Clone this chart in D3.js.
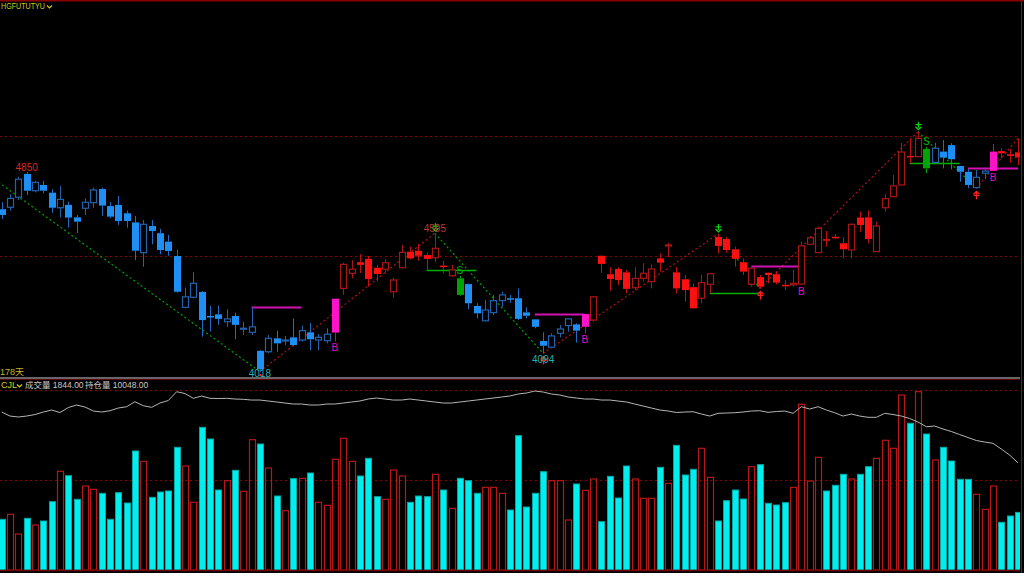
<!DOCTYPE html>
<html><head><meta charset="utf-8">
<script src="https://cdn.jsdelivr.net/npm/d3@7/dist/d3.min.js"></script>
<style>html,body{margin:0;padding:0;background:#000;overflow:hidden}svg{display:block}</style>
</head><body><svg id="c" width="1024" height="573"></svg>
<script>
// ---------- data ----------
const symbol = "HGFUTUTYU";
const periodLabel = "178天";
const indicatorName = "CJL";
const volumeLabel = "成交量";
const oiLabel = "持仓量";
const lastVolumeText = "1844.00";
const lastOiText = "10048.00";

const opens = [4695,4703,4745,4842,4772,4796,4764,4701,4713,4661,4699,4722,4779,4708,4713,4678,4640,4514,4625,4595,4560,4500,4286,4328,4350,4250,4257,4226,4250,4196,4182,4105,4101,4157,4147,4161,4150,4182,4150,4147,4181,
4365,4428,4474,4488,4451,4445,4351,4451,4518,4522,4504,4493,4460,4418,4407,4383,4292,4230,4264,4314,4324,4324,4265,4236,4146,4120,4178,4210,4215,4205,
4233,4501,4424,4446,4432,4368,4407,4393,4490,4542,4432,4403,4370,4324,4382,4579,4571,4528,4474,4382,
4412,4430,4424,4380,4380,4383,4549,4514,4570,4580,4553,4525,4660,4661,4518,4701,4747,4796,4917,4914,
4946,4890,4935,4962,4875,4851,4785,4845,4855,4937,4924,4932];
const highs = [4724,4757,4830,4850,4813,4813,4778,4792,4726,4671,4740,4785,4785,4724,4750,4689,4667,4650,4650,4613,4588,4525,4368,4432,4354,4292,4293,4278,4264,4226,4286,4108,4171,4189,4167,4240,4210,4220,4175,4199,4322,
4472,4483,4508,4500,4463,4488,4410,4546,4539,4550,4515,4595,4480,4463,4417,4385,4303,4317,4338,4351,4338,4365,4286,4237,4182,4178,4213,4238,4220,4259,
4333,4502,4453,4453,4442,4453,4470,4465,4511,4555,4454,4421,4386,4421,4430,4592,4580,4539,4490,4455,
4421,4431,4435,4400,4442,4560,4583,4622,4604,4592,4580,4636,4685,4689,4643,4758,4838,4972,4990,5018,
4955,4972,4983,4970,4876,4861,4858,4868,4967,4949,4945,4990];
const lows = [4654,4689,4733,4754,4765,4761,4680,4660,4618,4595,4671,4701,4668,4657,4629,4618,4483,4455,4549,4507,4501,4347,4282,4324,4164,4185,4213,4205,4153,4171,4171,4018,4095,4101,4129,4125,4143,4108,4108,4136,4144,
4338,4407,4428,4372,4396,4428,4326,4449,4486,4480,4439,4476,4428,4414,4335,4278,4240,4228,4254,4289,4305,4233,4240,4199,4094,4118,4161,4185,4139,4178,
4226,4430,4355,4379,4345,4358,4393,4365,4435,4495,4344,4310,4280,4303,4345,4511,4514,4455,4421,4372,
4365,4386,4382,4358,4372,4379,4546,4513,4539,4570,4490,4490,4601,4553,4517,4685,4746,4795,4886,4913,
4845,4886,4865,4861,4810,4782,4782,4820,4855,4907,4889,4879];
const closes = [4671,4740,4820,4772,4807,4772,4701,4736,4660,4643,4724,4775,4710,4664,4646,4646,4522,4632,4604,4525,4521,4351,4330,4386,4233,4245,4238,4238,4213,4199,4205,4029,4157,4136,4150,4129,4189,4153,4161,4174,4322,
4465,4445,4463,4404,4425,4472,4400,4515,4490,4501,4488,4532,4455,4442,4338,4303,4261,4275,4314,4338,4320,4238,4251,4205,4126,4167,4196,4238,4189,4258,
4330,4467,4404,4400,4363,4407,4428,4446,4472,4546,4365,4358,4282,4389,4426,4542,4525,4488,4435,4449,
4372,4421,4389,4374,4386,4542,4576,4615,4564,4574,4528,4632,4629,4571,4625,4739,4792,4933,4911,4990,
4865,4949,4910,4903,4851,4796,4828,4854,4935,4928,4917,4910];
// candle tone runs: b = blue trend, r = red trend, m = buy signal bar, g = sell signal bar
const toneRuns = [["b",40],["m",1],["r",14],["g",1],["b",14],["m",1],["r",40],["g",1],["b",7],["m",1],["r",3]];

const volumes = [1622,1782,1152,1654,1440,1568,2186,3158,3018,2262,2688,2582,2454,1622,2474,2144,3808,3478,2326,2496,2528,3926,3328,2166,4566,4192,2560,2858,3190,2518,4170,4032,3264,2368,1898,2922,2934,3104,2166,2070,3542,
4214,3478,3008,3574,2346,2262,3200,3008,2166,2368,2346,3062,2560,1974,2934,2858,2454,2646,2646,2454,1920,4298,2016,2454,3146,2858,2858,1600,2752,2550,
2912,1546,2998,2304,3328,2912,2294,2294,3286,2774,3990,3040,3222,3894,2966,1568,2218,2560,2272,3306,
3370,2134,2080,2154,2646,5302,2848,3606,2528,2710,3062,2912,3062,3306,3574,4150,3894,5600,4694,5706,
4352,3520,3926,3488,2902,2902,2422,1942,2688,1526,1728,1844];
const openInterest = [12301,12123,12079,12123,12190,12301,12390,12279,12501,12612,12523,12346,12301,12359,12479,12537,12759,12581,12510,12701,12812,13203,13123,12910,13012,12910,12901,12910,12879,12866,
12834,12834,12790,12746,12701,12657,12657,12612,12612,12657,12657,12701,12746,12790,12879,12923,12879,12834,12834,12879,12834,12790,12746,12701,12701,12746,12790,12834,12879,12923,
12968,13012,13101,13146,13234,13190,13101,13057,12968,12923,12879,12879,12834,12834,12790,12746,12657,12568,12479,12390,12346,
12279,12301,12315,12212,12123,12243,12257,12270,12301,12346,12359,12288,12323,12346,12243,12537,12434,12537,12390,12270,
12123,12212,12123,12066,12066,12243,12190,12123,12012,11857,11648,11679,11545,11435,11301,11168,11035,10968,10910,10657,10390,10048];

// zigzag pivots [index, price]
const zigzagPivots = [[-3,4873],[31,4018],[52,4595],[65,4094],[86,4592],[91,4365],[110,5018],[117,4782],[122,4990]];
// horizontal stop / breakout levels
const levelFrom = [30,51,64,85,90,109,116];
const levelTo   = [36,57,70,91,96,115,122];
const levelPrice= [4286,4442,4258,4345,4458,4886,4868];
const levelKind = ["m","g","m","g","m","g","m"];
const buySignals = [40,70,96,119];
const sellSignals = [55,111];
const downArrowBars = [52,86,110];
const upArrowBars = [31,65,91,117];
const extremeBars = [3,31,52,65];
const extremeText = ["4850","4018","4595","4094"];
const extremeSide = ["top","bottom","top","bottom"];
const priceGrid = [4500,5000];
const volumeGrid = [2880,5760];

// ---------- layout ----------
const W = 1024, H = 573;
const svg = d3.select("#c");
svg.append("rect").attr("width",W).attr("height",H).attr("fill","#000");

const n = opens.length;
const x = d3.scaleLinear().domain([0, n-1]).range([1.7, 1017.96]);
const y = d3.scaleLinear().domain([4500, 5000]).range([256, 136]);
const yv = d3.scaleLinear().domain([0, 5760]).range([570, 390]);
const yo = d3.scaleLinear().domain([5280, 13280]).range([570, 390]);

const tones = [];
toneRuns.forEach(([t,c]) => { for (let k=0;k<c;k++) tones.push(t); });

const palette = {
  b: {fill:"#1e8ff5", wick:"#1f6cc8", hollow:"#2462aa"},
  r: {fill:"#ff1010", wick:"#c01010", hollow:"#a81616"},
  m: {fill:"#ff12c8", wick:"#b0108a", hollow:"#ff12c8"},
  g: {fill:"#00a400", wick:"#00a400", hollow:"#00a400"}
};

svg.append("clipPath").attr("id","mainClip").append("rect").attr("x",0).attr("y",2).attr("width",1020).attr("height",374);
svg.append("clipPath").attr("id","volClip").append("rect").attr("x",0).attr("y",381).attr("width",1020).attr("height",190);

svg.append("line").attr("x1",0).attr("x2",W).attr("y1",0.5).attr("y2",0.5).attr("stroke","#8a0000").attr("stroke-width",2);

const main = svg.append("g").attr("clip-path","url(#mainClip)");
const vol = svg.append("g").attr("clip-path","url(#volClip)");

main.selectAll("line.pg").data(priceGrid).join("line").attr("class","pg")
  .attr("x1",0).attr("x2",1020).attr("y1",d=>Math.round(y(d))+0.5).attr("y2",d=>Math.round(y(d))+0.5)
  .attr("stroke","#8c0000").attr("stroke-width",1).attr("stroke-dasharray","2,3");

for (let k=0;k<zigzagPivots.length-1;k++){
  const a = zigzagPivots[k], b = zigzagPivots[k+1];
  const up = b[1] > a[1];
  main.append("line").attr("x1",x(a[0])).attr("y1",y(a[1])).attr("x2",x(b[0])).attr("y2",y(b[1]))
    .attr("stroke", up ? "#b01414" : "#00a000").attr("stroke-width",1.2).attr("stroke-dasharray","2,2.5");
}

levelFrom.forEach((f,k)=>{
  const yy = Math.round(y(levelPrice[k]))+0.5;
  main.append("line").attr("x1",x(f)).attr("x2",x(levelTo[k])).attr("y1",yy).attr("y2",yy)
    .attr("stroke", levelKind[k]==="m" ? "#d412b4" : "#00b000").attr("stroke-width", levelKind[k]==="m"?2:1.5);
});

const bw = 6;
d3.range(n).forEach(i=>{
  const t = tones[i], p = palette[t];
  const o = opens[i], c = closes[i], h = highs[i], l = lows[i];
  const up = c >= o;
  const cx = Math.round(x(i)) + 0.5;
  const top = y(Math.max(o,c)), bot = y(Math.min(o,c));
  const filled = (t==="m"||t==="g") ? true : !up;
  const wickColor = filled ? p.wick : p.hollow;
  const g = main.append("g");
  g.append("line").attr("x1",cx).attr("x2",cx).attr("y1",y(h)).attr("y2",top).attr("stroke",wickColor).attr("stroke-width",1);
  g.append("line").attr("x1",cx).attr("x2",cx).attr("y1",bot).attr("y2",y(l)).attr("stroke",wickColor).attr("stroke-width",1);
  const bx = Math.round(x(i) - bw/2);
  const bh = Math.max(1, bot - top);
  if (filled) {
    g.append("rect").attr("x",bx).attr("y",top).attr("width",bw+1).attr("height",Math.max(1.5,bh)).attr("fill",p.fill);
  } else {
    g.append("rect").attr("x",bx+0.5).attr("y",top).attr("width",bw).attr("height",bh)
      .attr("fill","#000").attr("stroke",p.hollow).attr("stroke-width",1.2);
  }
});

const lf = "Liberation Sans, Arial, sans-serif";
buySignals.forEach(i=>{
  main.append("text").attr("x",x(i)).attr("y",y(lows[i])+10).attr("text-anchor","middle")
    .attr("font-family",lf).attr("font-size",10).attr("fill","#e012b8").text("B");
});
sellSignals.forEach(i=>{
  main.append("text").attr("x",x(i)).attr("y",y(highs[i])-1.5).attr("text-anchor","middle")
    .attr("font-family",lf).attr("font-size",10).attr("fill","#00b000").text("S");
});
downArrowBars.forEach(i=>{
  const cx = Math.round(x(i))+0.5, yy = y(highs[i]) - 4;
  main.append("path").attr("d",`M${cx},${yy-6}V${yy}M${cx-3},${yy-3}H${cx+3}M${cx-3},${yy-1}L${cx},${yy+2}L${cx+3},${yy-1}`)
    .attr("stroke","#10d010").attr("stroke-width",1.3).attr("fill","none");
});
upArrowBars.forEach(i=>{
  const cx = Math.round(x(i))+0.5, yy = y(lows[i]) + 4;
  main.append("path").attr("d",`M${cx},${yy}V${yy+7}M${cx-3},${yy+3}H${cx+3}M${cx-3},${yy+2}L${cx},${yy-1}L${cx+3},${yy+2}`)
    .attr("stroke","#ff2020").attr("stroke-width",1.3).attr("fill","none");
});
// extreme price labels (outside clip so the low label can sit on the separator)
extremeBars.forEach((i,k)=>{
  const isTop = extremeSide[k]==="top";
  const col = isTop ? (k===0 ? "#d82828" : "#b83a3a") : "#22b0b4";
  const yy = isTop ? y(highs[i])-1 : Math.min(y(lows[i])+10, 377);
  svg.append("text").attr("x",x(i)).attr("y", yy)
    .attr("text-anchor","middle").attr("font-family",lf)
    .attr("font-size",10).attr("fill",col).text(extremeText[k]);
});

// header
svg.append("text").attr("x",1).attr("y",9).attr("font-family",lf)
  .attr("font-size",9).attr("textLength",44).attr("lengthAdjust","spacingAndGlyphs").attr("fill","#c8c820").text(symbol);
svg.append("path").attr("d","M47,5.5L49.5,8L52,5.5").attr("stroke","#c8c820").attr("fill","none").attr("stroke-width",1.2);
svg.append("text").attr("x",0).attr("y",375).attr("font-family","Liberation Sans, Noto Sans CJK SC, sans-serif")
  .attr("font-size",9).attr("fill","#c8b420").text(periodLabel);

// separator
svg.append("line").attr("x1",0).attr("x2",1020).attr("y1",378).attr("y2",378).attr("stroke","#888").attr("stroke-width",1.5);
svg.append("line").attr("x1",0).attr("x2",1020).attr("y1",379.5).attr("y2",379.5).attr("stroke","#600000").attr("stroke-width",1);

// volume panel
vol.selectAll("line.vg").data(volumeGrid).join("line").attr("class","vg")
  .attr("x1",0).attr("x2",1020).attr("y1",d=>Math.round(yv(d))+0.5).attr("y2",d=>Math.round(yv(d))+0.5)
  .attr("stroke","#8c0000").attr("stroke-width",1).attr("stroke-dasharray","2,3");

d3.range(n).forEach(i=>{
  const up = closes[i] >= opens[i];
  const bx = Math.round(x(i) - 3);
  const top = yv(volumes[i]);
  if (up) {
    vol.append("rect").attr("x",bx+0.5).attr("y",top).attr("width",6).attr("height",570-top)
      .attr("fill","none").attr("stroke","#b41818").attr("stroke-width",1.2);
  } else {
    vol.append("rect").attr("x",bx+0.5).attr("y",top).attr("width",6).attr("height",570-top)
      .attr("fill","#00eeee").attr("stroke","#00a8a8").attr("stroke-width",1);
  }
});
const oiLine = d3.line().x((d,i)=>x(i)).y(d=>yo(d));
vol.append("path").attr("d",oiLine(openInterest)).attr("fill","none").attr("stroke","#b4b4b4").attr("stroke-width",1);

svg.append("line").attr("x1",0).attr("x2",1020).attr("y1",570.5).attr("y2",570.5).attr("stroke","#700000").attr("stroke-width",1.5);

const hf = "Liberation Sans, Noto Sans CJK SC, sans-serif";
svg.append("text").attr("x",1).attr("y",388).attr("font-family",hf).attr("font-size",9).attr("fill","#d0d020").text(indicatorName);
svg.append("path").attr("d","M17,384.5L19.5,387L22,384.5").attr("stroke","#d0d020").attr("fill","none").attr("stroke-width",1.2);
svg.append("text").attr("x",25).attr("y",388).attr("font-family",hf).attr("font-size",8.5).attr("fill","#c8c8c8")
  .text(volumeLabel + " " + lastVolumeText);
svg.append("text").attr("x",85).attr("y",388).attr("font-family",hf).attr("font-size",8.5).attr("fill","#c8c8c8")
  .text(oiLabel + " " + lastOiText);

svg.append("line").attr("x1",1021.5).attr("x2",1021.5).attr("y1",0).attr("y2",573).attr("stroke","#8a1010").attr("stroke-width",1);
</script></body></html>
